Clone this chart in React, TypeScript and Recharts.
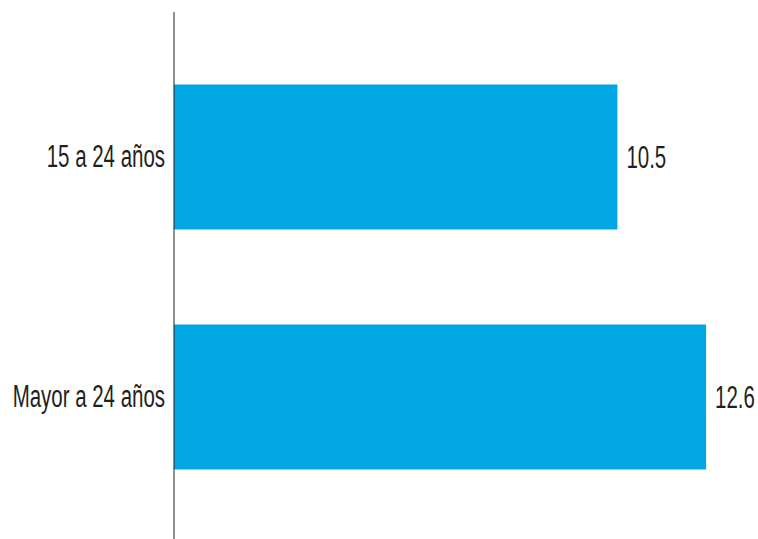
import React from 'react';
import { BarChart, Bar, XAxis, YAxis, LabelList } from 'recharts';

// Datos
const grupos = ['15 a 24 años', 'Mayor a 24 años'];
const valores = [10.5, 12.6];

const data = grupos.map((g, i) => ({ grupo: g, valor: valores[i] }));

const FONT = '"Liberation Sans", Arial, sans-serif';
const TEXTO = '#231f20';
const AZUL = '#00a7e3';
const ESCALA = 0.66;

function Tick(props: any) {
  const { x, y, payload } = props;
  return (
    <g transform={`translate(${x},${y}) scale(${ESCALA},1)`}>
      <text x={0} y={0} dy="0.35em" textAnchor="end" fontFamily={FONT} fontSize={31} fill={TEXTO}>
        {payload.value}
      </text>
    </g>
  );
}

function Etiqueta(props: any) {
  const { x, y, width, height, value } = props;
  const lx = Number(x) + Number(width) + 9;
  const ly = Number(y) + Number(height) / 2;
  return (
    <g transform={`translate(${lx},${ly}) scale(${ESCALA},1)`}>
      <text x={0} y={0} dy="0.35em" textAnchor="start" fontFamily={FONT} fontSize={31} fill={TEXTO}>
        {Number(value).toFixed(1)}
      </text>
    </g>
  );
}

export default function App() {
  return (
    <div style={{ position: 'absolute', left: 0, top: 0, width: 758, height: 539, background: '#fff' }}>
      <BarChart
        width={758}
        height={539}
        data={data}
        layout="vertical"
        margin={{ top: 12, right: 35, bottom: 0, left: 0 }}
      >
        <XAxis type="number" domain={[0, 13]} hide />
        <YAxis
          type="category"
          dataKey="grupo"
          width={174}
          tickLine={false}
          tickMargin={3}
          axisLine={{ stroke: TEXTO, strokeWidth: 1 }}
          padding={{ top: 24.5, bottom: 22.5 }}
          tick={<Tick />}
        />
        <Bar dataKey="valor" fill={AZUL} barSize={145} isAnimationActive={false}>
          <LabelList dataKey="valor" content={<Etiqueta />} />
        </Bar>
      </BarChart>
    </div>
  );
}
